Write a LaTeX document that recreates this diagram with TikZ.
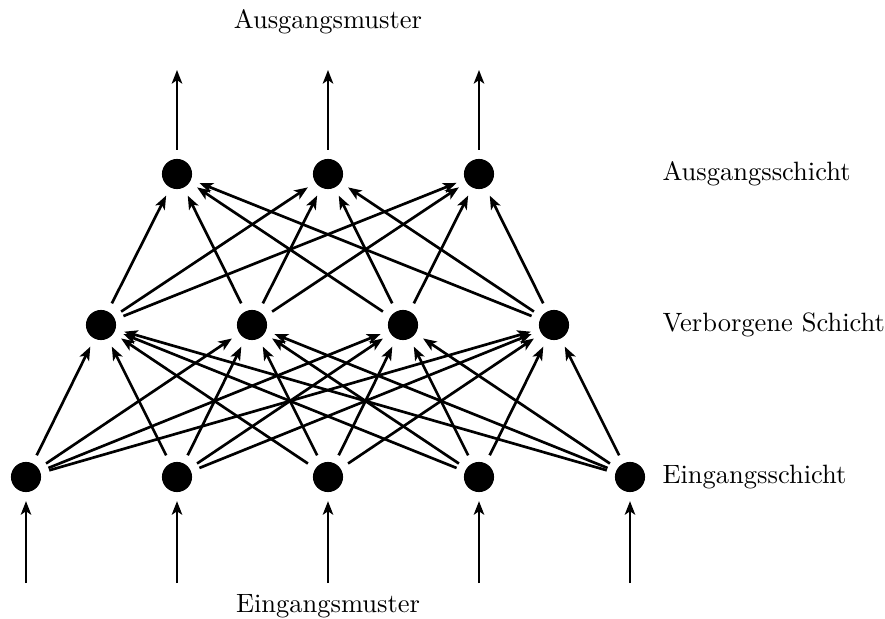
\documentclass[tikz,border=0pt]{standalone}
\usetikzlibrary{arrows.meta}
\begin{document}
\begin{tikzpicture}[x=0.385pt,y=-0.385pt,
  neuron/.style={circle,fill=black,inner sep=0pt,minimum size=11.6pt,outer sep=3.5pt},
  link/.style={line width=1.03pt,-{Stealth[length=5.2pt,width=4pt,inset=1.3pt]}},
  caption/.style={font=\fontsize{10.2}{12}\selectfont},
  layerlabel/.style={caption,anchor=west,inner sep=0pt}]
\useasboundingbox (0,0) rectangle (885,619);
% input layer
\foreach \i/\x in {1/26,2/177,3/328,4/479,5/630}
  \node[neuron] (in\i) at (\x,477) {};
% hidden layer
\foreach \i/\x in {1/101,2/252,3/403,4/554}
  \node[neuron] (hid\i) at (\x,325) {};
% output layer
\foreach \i/\x in {1/177,2/328,3/479}
  \node[neuron] (out\i) at (\x,174) {};
% input pattern arrows
\foreach \i/\x in {1/26,2/177,3/328,4/479,5/630} {
  \coordinate (src\i) at (\x,583);
  \draw[link] (src\i) -- (in\i);
}
% output pattern arrows
\foreach \i/\x in {1/177,2/328,3/479} {
  \coordinate (dst\i) at (\x,70);
  \draw[link] (out\i) -- (dst\i);
}
% connections
\foreach \i in {1,...,5}
  \foreach \j in {1,...,4}
    \draw[link] (in\i) -- (hid\j);
\foreach \j in {1,...,4}
  \foreach \k in {1,...,3}
    \draw[link] (hid\j) -- (out\k);
% labels
\node[caption] (tmuster) at (328,22) {Ausgangsmuster};
\node[caption] (bmuster) at (328,606) {Eingangsmuster};
\node[layerlabel] (lout) at (662,174) {Ausgangsschicht};
\node[layerlabel] (lhid) at (662,325) {Verborgene Schicht};
\node[layerlabel] (lin) at (662,477) {Eingangsschicht};
\end{tikzpicture}
\end{document}
